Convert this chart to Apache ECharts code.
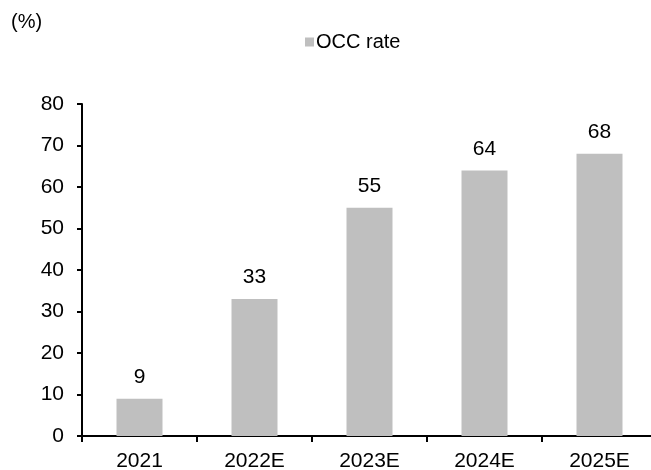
<!DOCTYPE html>
<html>
<head>
<meta charset="utf-8">
<style>
  html, body { margin: 0; padding: 0; background: #fff; }
  #chart { width: 651px; height: 470px; }
</style>
<script src="https://cdn.jsdelivr.net/npm/echarts@6/dist/echarts.min.js"></script>
</head>
<body>
<div id="chart"></div>
<script>
// Occupancy rate by year (actual + estimates)
const categories = ['2021', '2022E', '2023E', '2024E', '2025E'];
const occRate = [9, 33, 55, 64, 68];
const yTicks = { min: 0, max: 80, interval: 10 };

const font = '"Liberation Sans", Arial, sans-serif';
const chart = echarts.init(document.getElementById('chart'), null, { renderer: 'canvas' });

chart.setOption({
  animation: false,
  backgroundColor: '#ffffff',
  textStyle: { fontFamily: font, color: '#000' },
  title: {
    text: '(%)',
    left: 11,
    top: 12,
    padding: 0,
    textStyle: { fontFamily: font, fontSize: 20, fontWeight: 'normal', color: '#000' }
  },
  legend: {
    data: ['OCC rate'],
    left: 305,
    top: 32,
    padding: 0,
    icon: 'rect',
    itemWidth: 9,
    itemHeight: 9,
    itemGap: 10,
    textStyle: { fontFamily: font, fontSize: 20, color: '#000', padding: [0, 0, 0, -3] }
  },
  grid: {
    left: 82, right: -6, top: 104, bottom: 34,
    containLabel: false,
    outerBoundsMode: 'none'
  },
  xAxis: {
    type: 'category',
    data: categories,
    boundaryGap: true,
    axisLine: { lineStyle: { color: '#000', width: 2 } },
    axisTick: { show: true, length: 6, lineStyle: { color: '#000', width: 2 } },
    axisLabel: { fontFamily: font, fontSize: 21, color: '#000', margin: 15 },
    splitLine: { show: false }
  },
  yAxis: {
    type: 'value',
    min: yTicks.min,
    max: yTicks.max,
    interval: yTicks.interval,
    axisLine: { show: true, lineStyle: { color: '#000', width: 2 } },
    axisTick: { show: true, length: 5, lineStyle: { color: '#000', width: 2 } },
    axisLabel: { fontFamily: font, fontSize: 21, color: '#000', margin: 18 },
    splitLine: { show: false }
  },
  series: [{
    name: 'OCC rate',
    type: 'bar',
    data: occRate,
    barWidth: '40%',
    itemStyle: { color: '#bfbfbf' },
    label: {
      show: true,
      position: 'top',
      distance: 11,
      fontFamily: font,
      fontSize: 21,
      color: '#000'
    }
  }]
});
</script>
</body>
</html>
